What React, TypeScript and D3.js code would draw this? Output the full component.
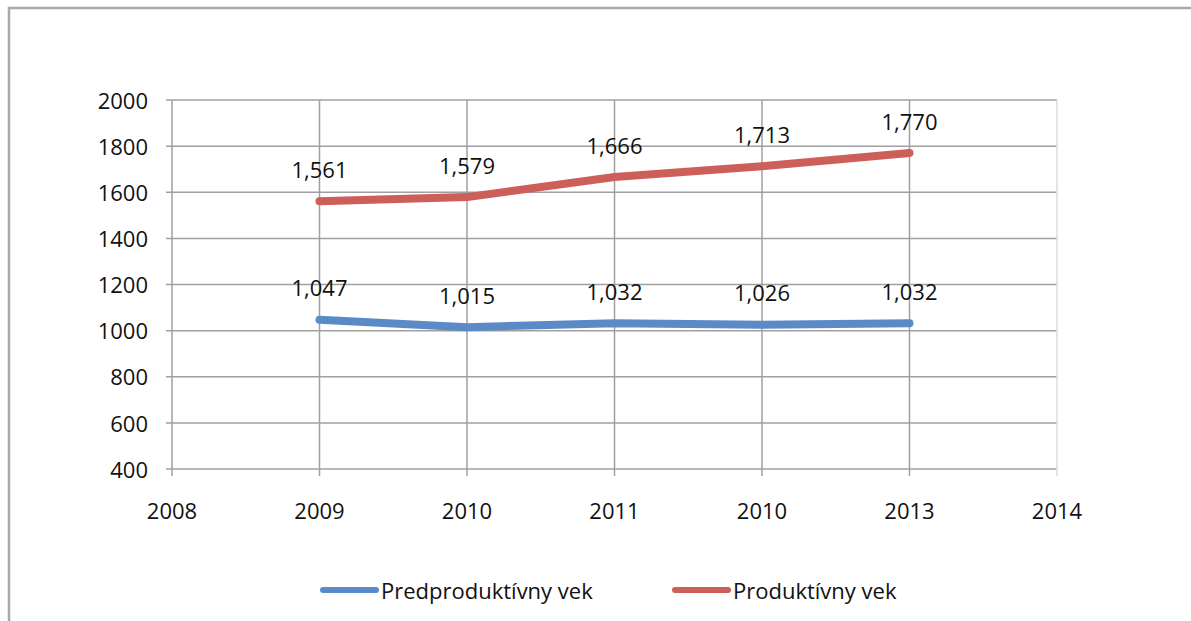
import React from "react";
import * as d3 from "d3";

const categories = ["2008", "2009", "2010", "2011", "2010", "2013", "2014"];
const predproduktivny = [null, 1047, 1015, 1032, 1026, 1032, null];
const produktivny = [null, 1561, 1579, 1666, 1713, 1770, null];
const yTicks = [400, 600, 800, 1000, 1200, 1400, 1600, 1800, 2000];
const seriesNames = ["Predproduktívny vek", "Produktívny vek"];
const colors = ["#5A8BC8", "#CC5F5A"];

const W = 1191;
const H = 621;
const M = { left: 172, right: 1057, top: 100, bottom: 469 };
const FONT = "'Open Sans', sans-serif";
const FS = 22;

export default function App() {
  const x = d3
    .scalePoint<number>()
    .domain(categories.map((_, i) => i))
    .range([M.left, M.right]);
  const y = d3.scaleLinear().domain([400, 2000]).range([M.bottom, M.top]);
  const fmt = d3.format(",");
  const line = d3
    .line<[number, number | null]>()
    .defined((d) => d[1] !== null)
    .x((d) => x(d[0]) as number)
    .y((d) => y(d[1] as number));

  const series = [predproduktivny, produktivny];
  const legendX = [323, 675];

  return (
    <svg
      width={W}
      height={H}
      style={{ position: "absolute", left: 0, top: 0, background: "#fff" }}
      fontFamily={FONT}
    >
      <rect x={9} y={8} width={W + 10} height={H + 10} fill="#fff" stroke="#a9a9a9" strokeWidth={2.5} />
      {/* horizontal grid */}
      {yTicks.map((t) => (
        <line key={"h" + t} x1={M.left - 6} x2={M.right} y1={y(t)} y2={y(t)} stroke="#a0a0a0" strokeWidth={1.5} />
      ))}
      {/* vertical grid */}
      {categories.map((_, i) => (
        <line
          key={"v" + i}
          x1={x(i)}
          x2={x(i)}
          y1={M.top}
          y2={M.bottom + 7}
          stroke={i === categories.length - 1 ? "#dcdcdc" : "#a0a0a0"}
          strokeWidth={1.5}
        />
      ))}
      {/* y labels */}
      {yTicks.map((t) => (
        <text key={"yl" + t} x={148} y={y(t) + 1} dy="0.35em" textAnchor="end" fontSize={FS} fill="#111">
          {t}
        </text>
      ))}
      {/* x labels */}
      {categories.map((c, i) => (
        <text key={"xl" + i} x={x(i)} y={511} dy="0.35em" textAnchor="middle" fontSize={FS} fill="#111">
          {c}
        </text>
      ))}
      {/* lines */}
      {series.map((s, si) => (
        <path
          key={"s" + si}
          d={line(s.map((v, i) => [i, v] as [number, number | null])) || ""}
          fill="none"
          stroke={colors[si]}
          strokeWidth={8}
          strokeLinecap="round"
          strokeLinejoin="round"
        />
      ))}
      {/* data labels */}
      {series.map((s, si) =>
        s.map((v, i) =>
          v === null ? null : (
            <text
              key={"dl" + si + "-" + i}
              x={x(i)}
              y={y(v) - 31}
              dy="0.35em"
              textAnchor="middle"
              fontSize={FS}
              fill="#111"
            >
              {fmt(v)}
            </text>
          )
        )
      )}
      {/* legend */}
      {seriesNames.map((n, i) => {
        const lx = legendX[i];
        return (
          <g key={"lg" + i}>
            <line x1={lx} x2={lx + 53} y1={590} y2={590} stroke={colors[i]} strokeWidth={6} strokeLinecap="round" />
            <text x={lx + 58} y={591} dy="0.35em" fontSize={FS} fill="#111">
              {n}
            </text>
          </g>
        );
      })}
    </svg>
  );
}
